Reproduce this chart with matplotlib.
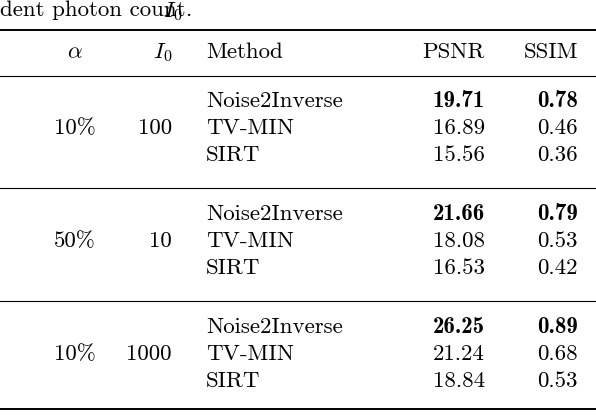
import os
import matplotlib
matplotlib.use("Agg")
import matplotlib.pyplot as plt
from matplotlib.font_manager import FontProperties

plt.rcParams['mathtext.fontset'] = 'cm'
fdir = os.path.join(matplotlib.get_data_path(), 'fonts', 'ttf')
fs = 16.5
REG = FontProperties(fname=os.path.join(fdir, 'cmr10.ttf'), size=fs)
BOLD = FontProperties(fname=os.path.join(fdir, 'cmb10.ttf'), size=fs)

alphas = ["10%", "50%", "10%"]
photons = ["100", "10", "1000"]
methods = ["Noise2Inverse", "TV-MIN", "SIRT"]
psnr = [[19.71, 16.89, 15.56], [21.66, 18.08, 16.53], [26.25, 21.24, 18.84]]
ssim = [[0.78, 0.46, 0.36], [0.79, 0.53, 0.42], [0.89, 0.68, 0.53]]

fig = plt.figure(figsize=(5.96, 4.18), dpi=100)
ax = fig.add_axes([0, 0, 1, 1])
ax.set_xlim(0, 596); ax.set_ylim(418, 0); ax.axis('off')

def t(x, y, s, ha='left', fp=REG):
    ax.text(x, y, s, ha=ha, va='center', fontproperties=fp)

def m(x, y, s, ha='left'):
    ax.text(x, y, s, ha=ha, va='center', fontsize=fs)

t(0, 10, "dent photon count")
m(163, 11, r"$I_0$")
t(185, 10, ".")
ax.plot([0, 596], [30, 30], color='black', lw=1.4)
m(75, 52, r"$\alpha$", 'center')
m(172, 52, r"$I_0$", 'right')
t(206, 52, "Method")
t(485, 52, "PSNR", 'right')
t(578, 52, "SSIM", 'right')
ax.plot([0, 596], [76, 76], color='black', lw=0.8)

group_top = [101, 214, 327]
for g in range(3):
    y0 = group_top[g]
    ys = [y0, y0 + 27, y0 + 54]
    t(54, ys[1], alphas[g])
    t(172, ys[1], photons[g], 'right')
    for i in range(3):
        t(206, ys[i], methods[i])
        fp = BOLD if i == 0 else REG
        t(485, ys[i], "%.2f" % psnr[g][i], 'right', fp)
        t(578, ys[i], "%.2f" % ssim[g][i], 'right', fp)
    if g < 2:
        ax.plot([0, 596], [y0 + 87, y0 + 87], color='black', lw=0.8)
ax.plot([0, 596], [409, 409], color='black', lw=1.4)
fig.savefig("out.png", dpi=100)
